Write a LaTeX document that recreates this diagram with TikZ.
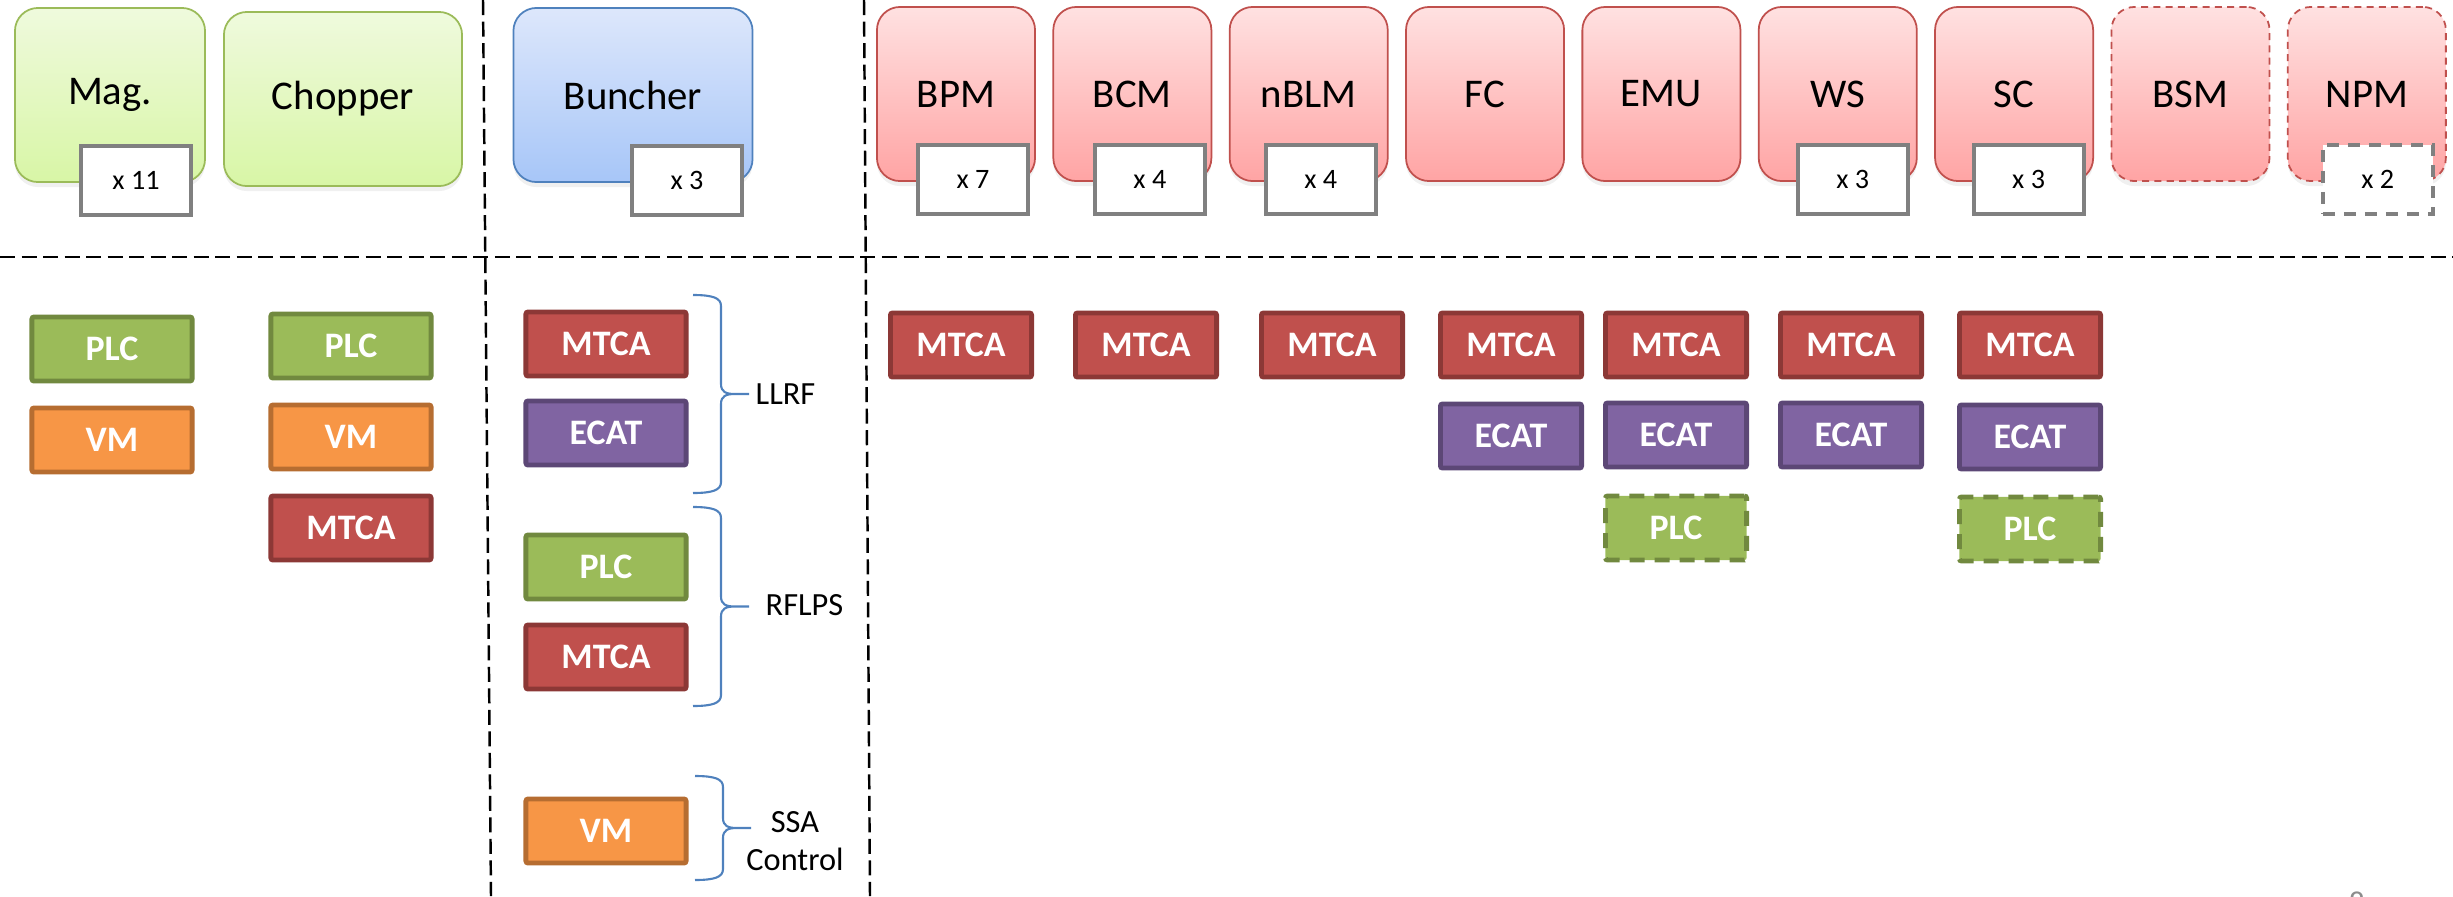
\documentclass[tikz,border=0pt]{standalone}
\usepackage{fontspec}
\setmainfont{Carlito}
\usepackage{tikz}
\usetikzlibrary{shadows}

\definecolor{magline}{HTML}{9BBB59}
\definecolor{magtop}{HTML}{EFFADD}
\definecolor{magbot}{HTML}{D8F6A6}
\definecolor{bunline}{HTML}{4F81BD}
\definecolor{buntop}{HTML}{DDE7FB}
\definecolor{bunbot}{HTML}{A7C6F8}
\definecolor{diagline}{HTML}{C0504D}
\definecolor{diagtop}{HTML}{FFE1E1}
\definecolor{diagbot}{HTML}{FFA4A4}
\definecolor{plcfill}{HTML}{9BBB59}
\definecolor{plcline}{HTML}{71893F}
\definecolor{vmfill}{HTML}{F79646}
\definecolor{vmline}{HTML}{B66D31}
\definecolor{mtcafill}{HTML}{C0504D}
\definecolor{mtcaline}{HTML}{8C3836}
\definecolor{ecatfill}{HTML}{8064A2}
\definecolor{ecatline}{HTML}{5C4776}

% curly brace opening to the right: x, top, bottom
\newcommand{\groupbrace}[3]{%
  \draw[bracepen] (#1,#2) .. controls ({#1+20},#2) and ({#1+28},{#2+3}) .. ({#1+28},{#2+11})
    -- ({#1+28},{(#2+#3)/2-10}) .. controls ({#1+28},{(#2+#3)/2-2}) and ({#1+33},{(#2+#3)/2}) .. ({#1+42},{(#2+#3)/2})
    -- ({#1+56},{(#2+#3)/2}) -- ({#1+42},{(#2+#3)/2})
    .. controls ({#1+33},{(#2+#3)/2}) and ({#1+28},{(#2+#3)/2+2}) .. ({#1+28},{(#2+#3)/2+10})
    -- ({#1+28},{#3-11}) .. controls ({#1+28},{#3-3}) and ({#1+20},#3) .. (#1,#3);}

\tikzset{
  unit/.style={draw, line width=0.5pt, rounded corners=0.23cm, minimum width=1.58cm,
    minimum height=1.74cm, font=\fontsize{11.6}{14}\selectfont,
    drop shadow={opacity=0.12, shadow xshift=0pt, shadow yshift=-0.05cm}},
  magunit/.style={unit, draw=magline, top color=magtop, bottom color=magbot},
  bununit/.style={unit, draw=bunline, top color=buntop, bottom color=bunbot},
  diagunit/.style={unit, draw=diagline, top color=diagtop, bottom color=diagbot},
  countbox/.style={draw=black!50, line width=1.15pt, fill=white, minimum width=1.10cm,
    minimum height=0.69cm, font=\fontsize{8}{10}\selectfont},
  ioc/.style={line width=1.4pt, rounded corners=0.6pt, minimum width=1.60cm,
    minimum height=0.64cm, text=white, font=\bfseries\fontsize{10.2}{12}\selectfont},
  slim/.style={minimum width=1.41cm},
  plcbox/.style={ioc, draw=plcline, fill=plcfill},
  vmbox/.style={ioc, draw=vmline, fill=vmfill},
  mtcabox/.style={ioc, draw=mtcaline, fill=mtcafill},
  ecatbox/.style={ioc, draw=ecatline, fill=ecatfill},
  planned/.style={dash pattern=on 0.15cm off 0.1cm},
  divider/.style={line width=0.7pt, dash pattern=on 0.15cm off 0.065cm},
  bracepen/.style={draw=bunline, line width=0.6pt},
  bracetext/.style={inner sep=0pt, font=\fontsize{9.2}{10.8}\selectfont}
}

\begin{document}
\begin{tikzpicture}[x=0.01cm, y=-0.01cm, node distance=1.7625cm]
        \useasboundingbox (0,0) rectangle (2453,896);

        \draw[divider] (0,257) -- (2453,257);
        \draw[divider] (483,0) -- (491,896);
        \draw[divider] (864,0) -- (870,896);

        \node[magunit, minimum width=1.90cm] (mag) at (110,95) {Mag.};
        \node[magunit, minimum width=2.38cm] (chopper) at (343,99) {Chopper};
        \node[bununit, minimum width=2.39cm] (buncher) at (633,95) {Buncher};
        \node[diagunit] (bpm) at (956,94) {BPM};
        \node[diagunit] (bcm) [right of=bpm] {BCM};
        \node[diagunit] (nblm) [right of=bcm] {nBLM};
        \node[diagunit] (fc) [right of=nblm] {FC};
        \node[diagunit] (emu) [right of=fc] {EMU};
        \node[diagunit] (ws) [right of=emu] {WS};
        \node[diagunit] (sc) [right of=ws] {SC};
        \node[diagunit, dash pattern=on 2pt off 1.5pt] (bsm) [right of=sc] {BSM};
        \node[diagunit, dash pattern=on 2pt off 1.5pt] (npm) [right of=bsm] {NPM};

        \node[countbox] (magn) at ([xshift=0.26cm,yshift=0.025cm]mag.south) {x 11};
        \node[countbox] (bunchern) at ([xshift=0.54cm,yshift=0.025cm]buncher.south) {x 3};
        \node[countbox] (bpmn) at ([xshift=0.17cm,yshift=0.025cm]bpm.south) {x 7};
        \node[countbox] (bcmn) at ([xshift=0.175cm,yshift=0.025cm]bcm.south) {x 4};
        \node[countbox] (nblmn) at ([xshift=0.12cm,yshift=0.025cm]nblm.south) {x 4};
        \node[countbox] (wsn) at ([xshift=0.15cm,yshift=0.025cm]ws.south) {x 3};
        \node[countbox] (scn) at ([xshift=0.145cm,yshift=0.025cm]sc.south) {x 3};
        \node[countbox, dash pattern=on 0.12cm off 0.09cm] (npmn) at ([xshift=0.11cm,yshift=0.025cm]npm.south) {x 2};

        \node[plcbox] (magplc) at (112,349) {PLC};
        \node[vmbox] (magvm) at (112,440) {VM};
        \node[plcbox] (chopperplc) at (351,346) {PLC};
        \node[vmbox] (choppervm) at (351,437) {VM};
        \node[mtcabox] (choppermtca) at (351,528) {MTCA};

        \node[mtcabox] (llrfmtca) at (606,344) {MTCA};
        \node[ecatbox] (llrfecat) at (606,433) {ECAT};
        \node[plcbox] (rflpsplc) at (606,567) {PLC};
        \node[mtcabox] (rflpsmtca) at (606,657) {MTCA};
        \node[vmbox] (ssavm) at (606,831) {VM};

        \groupbrace{693}{295}{493}
        \groupbrace{693}{507}{706}
        \groupbrace{695}{776}{880}
        \node[bracetext, anchor=west] (llrf) at (755,394) {LLRF};
        \node[bracetext, anchor=west] (rflps) at (765,605) {RFLPS};
        \node[bracetext, align=center] (ssa) at (795,841) {SSA\\Control};

        \node[mtcabox, slim] (bpmmtca) at (961,345) {MTCA};
        \node[mtcabox, slim] (bcmmtca) at (1146,345) {MTCA};
        \node[mtcabox, slim] (nblmmtca) at (1332,345) {MTCA};
        \node[mtcabox, slim] (fcmtca) at (1511,345) {MTCA};
        \node[mtcabox, slim] (emumtca) at (1676,345) {MTCA};
        \node[mtcabox, slim] (wsmtca) at (1851,345) {MTCA};
        \node[mtcabox, slim] (scmtca) at (2030,345) {MTCA};

        \node[ecatbox, slim] (fcecat) at (1511,436) {ECAT};
        \node[ecatbox, slim] (emuecat) at (1676,435) {ECAT};
        \node[ecatbox, slim] (wsecat) at (1851,435) {ECAT};
        \node[ecatbox, slim] (scecat) at (2030,437) {ECAT};

        \node[plcbox, slim, planned] (emuplc) at (1676,528) {PLC};
        \node[plcbox, slim, planned] (scplc) at (2030,529) {PLC};

        \node[text=black!45, inner sep=0pt, anchor=north, font=\fontsize{9}{10}\selectfont] (page) at (2357,891) {8};
    \end{tikzpicture}
\end{document}
